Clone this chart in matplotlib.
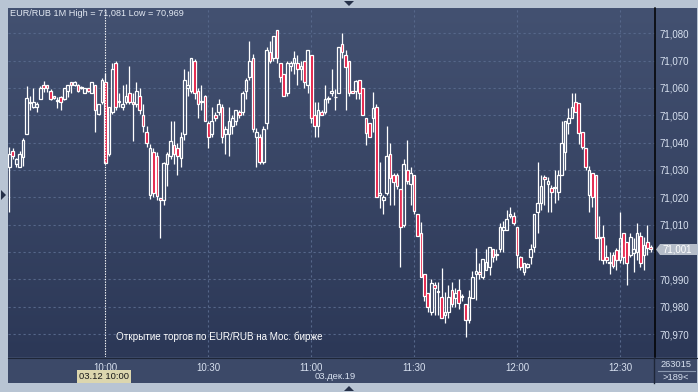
import numpy as np
import matplotlib
matplotlib.use('Agg')
import matplotlib.pyplot as plt
from matplotlib.colors import LinearSegmentedColormap
from matplotlib.patches import Rectangle, Polygon

W, H = 698, 392

# 1-minute EUR/RUB candles, first candle at 09:32
opens = [71.031, 71.037, 71.032, 71.031, 71.0347, 71.043, 71.0543, 71.053, 71.053, 71.056,
         71.061, 71.061, 71.059, 71.057, 71.0552, 71.0567, 71.056, 71.059, 71.062, 71.061,
         71.061, 71.060, 71.058, 71.060, 71.058, 71.061, 71.0505, 71.055, 71.062, 71.036,
         71.051, 71.069, 71.055, 71.053, 71.055, 71.058, 71.055, 71.054, 71.057, 71.050,
         71.044, 71.021, 71.0365, 71.035, 71.0197, 71.019, 71.032, 71.035, 71.039, 71.038,
         71.0345, 71.043, 71.060, 71.059, 71.070, 71.059, 71.055, 71.057, 71.047, 71.043,
         71.050, 71.051, 71.053, 71.043, 71.043, 71.046, 71.048, 71.051, 71.051, 71.059,
         71.064, 71.071, 71.042, 71.042, 71.033, 71.047, 71.073, 71.071, 71.081, 71.069,
         71.065, 71.058, 71.068, 71.069, 71.069, 71.067, 71.070, 71.061, 71.072, 71.050,
         71.046, 71.051, 71.051, 71.056, 71.058, 71.0565, 71.058, 71.076, 71.072, 71.070,
         71.059, 71.059, 71.063, 71.060, 71.049, 71.047, 71.049, 71.053, 71.021, 71.019,
         71.0215, 71.036, 71.028, 71.028, 71.023, 71.010, 71.030, 71.025, 71.028, 71.014,
         71.007, 70.992, 70.985, 70.978, 70.988, 70.9855, 70.9835, 70.977, 70.978, 70.986,
         70.983, 70.986, 70.9835, 70.981, 70.975, 70.983, 70.992, 70.9925, 70.991, 70.9935,
         70.9945, 71.001, 70.999, 71.001, 71.008, 71.008, 71.013, 71.013, 71.009, 70.998,
         70.9925, 70.9945, 70.998, 71.002, 71.0145, 71.018, 71.0275, 71.025, 71.0235, 71.0235,
         71.022, 71.028, 71.0365, 71.047, 71.049, 71.055, 71.0545, 71.044, 71.038, 71.021,
         71.029, 71.028, 71.005, 71.0055, 70.998, 70.996, 70.999, 71.0007, 70.997, 71.007,
         71.0035, 70.999, 70.9995, 71.000, 71.006, 70.999, 71.0035, 71.002]
highs = [71.0385, 71.038, 71.0345, 71.037, 71.0415, 71.0605, 71.057, 71.060, 71.055, 71.0605,
         71.0625, 71.061, 71.0595, 71.057, 71.0567, 71.057, 71.060, 71.061, 71.062, 71.0625,
         71.0615, 71.0605, 71.060, 71.060, 71.062, 71.061, 71.054, 71.0635, 71.0655, 71.053,
         71.069, 71.070, 71.058, 71.061, 71.0615, 71.068, 71.058, 71.062, 71.060, 71.054,
         71.046, 71.0395, 71.038, 71.0365, 71.0198, 71.033, 71.0365, 71.048, 71.048, 71.040,
         71.044, 71.067, 71.066, 71.071, 71.0705, 71.060, 71.061, 71.0575, 71.048, 71.053,
         71.051, 71.056, 71.054, 71.046, 71.053, 71.050, 71.052, 71.052, 71.059, 71.0635,
         71.077, 71.0725, 71.0455, 71.043, 71.046, 71.075, 71.077, 71.079, 71.081, 71.069,
         71.065, 71.070, 71.070, 71.0735, 71.072, 71.070, 71.070, 71.074, 71.072, 71.055,
         71.055, 71.052, 71.061, 71.057, 71.067, 71.0595, 71.075, 71.080, 71.074, 71.070,
         71.059, 71.063, 71.063, 71.060, 71.049, 71.047, 71.0585, 71.054, 71.033, 71.021,
         71.046, 71.040, 71.029, 71.029, 71.023, 71.034, 71.041, 71.031, 71.028, 71.014,
         71.011, 70.992, 70.985, 70.990, 70.989, 70.989, 70.994, 70.9855, 70.988, 70.989,
         70.987, 70.990, 70.9845, 70.981, 70.986, 70.993, 71.0015, 70.996, 70.9975, 71.001,
         71.002, 71.001, 71.001, 71.0105, 71.0115, 71.0155, 71.0165, 71.0145, 71.009, 70.9985,
         70.996, 70.996, 71.003, 71.014, 71.033, 71.028, 71.028, 71.0275, 71.0245, 71.030,
         71.030, 71.048, 71.048, 71.0525, 71.058, 71.058, 71.0545, 71.044, 71.038, 71.0315,
         71.029, 71.028, 71.013, 71.010, 71.0025, 71.000, 71.000, 71.0015, 71.0145, 71.007,
         71.0035, 71.007, 71.005, 71.0105, 71.0073, 71.0055, 71.010, 71.0025]
lows = [71.0145, 71.034, 71.031, 71.031, 71.0315, 71.043, 71.052, 71.0527, 71.051, 71.056,
        71.0585, 71.0585, 71.0555, 71.056, 71.0527, 71.052, 71.0555, 71.0565, 71.058, 71.0605,
        71.0585, 71.0595, 71.058, 71.0585, 71.058, 71.044, 71.050, 71.054, 71.0325, 71.035,
        71.0505, 71.052, 71.053, 71.052, 71.054, 71.054, 71.0405, 71.053, 71.0505, 71.044,
        71.0385, 71.0195, 71.020, 71.019, 71.005, 71.017, 71.024, 71.034, 71.032, 71.028,
        71.031, 71.041, 71.057, 71.058, 71.056, 71.049, 71.052, 71.048, 71.038, 71.042,
        71.048, 71.050, 71.040, 71.036, 71.035, 71.043, 71.0465, 71.049, 71.050, 71.056,
        71.063, 71.044, 71.031, 71.032, 71.032, 71.045, 71.069, 71.070, 71.069, 71.062,
        71.057, 71.057, 71.066, 71.065, 71.061, 71.063, 71.060, 71.058, 71.047, 71.042,
        71.042, 71.050, 71.0505, 71.0545, 71.057, 71.052, 71.058, 71.071, 71.052, 71.057,
        71.058, 71.056, 71.056, 71.050, 71.039, 71.042, 71.044, 71.020, 71.016, 71.014,
        71.021, 71.017, 71.017, 71.023, 70.9945, 71.009, 71.025, 71.017, 71.014, 71.006,
        70.991, 70.982, 70.978, 70.977, 70.977, 70.977, 70.976, 70.974, 70.976, 70.980,
        70.980, 70.979, 70.982, 70.969, 70.974, 70.983, 70.9825, 70.990, 70.990, 70.9935,
        70.9915, 70.9965, 70.997, 71.000, 71.000, 71.008, 71.0125, 71.010, 70.994, 70.9935,
        70.9915, 70.994, 70.9955, 71.000, 71.007, 71.0155, 71.017, 71.0145, 71.0145, 71.018,
        71.019, 71.028, 71.030, 71.043, 71.049, 71.051, 71.0395, 71.0375, 71.030, 71.0147,
        71.0165, 71.005, 70.997, 70.9955, 70.996, 70.992, 70.994, 70.9935, 70.996, 70.9955,
        70.988, 70.998, 70.9925, 70.997, 70.9945, 70.9935, 70.999, 71.000]
closes = [71.036, 71.035, 71.034, 71.036, 71.041, 71.0563, 71.055, 71.055, 71.054, 71.060,
          71.060, 71.060, 71.056, 71.0563, 71.0555, 71.055, 71.060, 71.061, 71.061, 71.062,
          71.059, 71.060, 71.060, 71.059, 71.062, 71.052, 71.054, 71.063, 71.0325, 71.053,
          71.067, 71.053, 71.0553, 71.054, 71.057, 71.055, 71.054, 71.059, 71.052, 71.046,
          71.040, 71.038, 71.0215, 71.0205, 71.019, 71.0325, 71.036, 71.0405, 71.036, 71.035,
          71.042, 71.063, 71.061, 71.071, 71.058, 71.054, 71.0553, 71.048, 71.042, 71.048,
          71.049, 71.054, 71.042, 71.045, 71.048, 71.049, 71.052, 71.050, 71.058, 71.063,
          71.070, 71.045, 71.044, 71.033, 71.045, 71.074, 71.070, 71.079, 71.071, 71.064,
          71.057, 71.069, 71.069, 71.071, 71.067, 71.068, 71.062, 71.074, 71.049, 71.046,
          71.052, 71.050, 71.056, 71.056, 71.059, 71.0565, 71.075, 71.073, 71.0675, 71.058,
          71.058, 71.0625, 71.058, 71.050, 71.0435, 71.042, 71.0525, 71.020, 71.0215, 71.020,
          71.035, 71.027, 71.0255, 71.024, 71.009, 71.032, 71.026, 71.029, 71.015, 71.006,
          70.991, 70.984, 70.980, 70.9885, 70.987, 70.9855, 70.976, 70.978, 70.9835, 70.981,
          70.985, 70.9815, 70.9835, 70.975, 70.9835, 70.991, 70.993, 70.992, 70.9975, 70.9965,
          71.002, 70.998, 70.999, 71.009, 71.009, 71.012, 71.014, 71.0105, 70.999, 70.9945,
          70.996, 70.9955, 71.001, 71.014, 71.018, 71.024, 71.0265, 71.026, 71.022, 71.0235,
          71.028, 71.040, 71.048, 71.049, 71.053, 71.051, 71.0435, 71.0385, 71.031, 71.030,
          71.020, 71.005, 71.0055, 70.997, 70.997, 70.9962, 70.995, 70.997, 71.005, 70.998,
          70.996, 71.0055, 71.001, 71.007, 70.996, 71.0025, 71.0015, 71.001]

first_minute = -28          # 09:32 relative to 10:00
price_levels = [70.970, 70.980, 70.990, 71.000, 71.010, 71.020, 71.030,
                71.040, 71.050, 71.060, 71.070, 71.080]
time_ticks = [0, 30, 60, 90, 120, 150]
time_labels = ['10:00', '10:30', '11:00', '11:30', '12:00', '12:30']
last_price = 71.001

plt.rcParams['font.family'] = ['Liberation Sans', 'DejaVu Sans']

FRAME = '#b8c4d3'
GRID = '#56678a'
LABEL = '#d8e1f0'
RED = '#e3123c'


def fx(px):
    return px / W


def fy(py):
    return 1 - py / H


def price_fmt(v):
    return f'{v:.3f}'.replace('.', ',')


fig = plt.figure(figsize=(W / 100, H / 100), dpi=100, facecolor=FRAME)

# dark gradient behind the chart and the price scale
bg = fig.add_axes([fx(8), fy(357), (697 - 8) / W, (357 - 8) / H])
grad = LinearSegmentedColormap.from_list('bg', ['#435171', '#2c3857'])
bg.imshow(np.linspace(0, 1, 256).reshape(-1, 1), cmap=grad, aspect='auto',
          extent=[0, 1, 0, 1])
bg.set_axis_off()

# time strip
strip = fig.add_axes([fx(8), fy(383), (697 - 8) / W, (383 - 357) / H])
strip.set_facecolor('#3c4968')
strip.set_xticks([])
strip.set_yticks([])
for s in strip.spines.values():
    s.set_visible(False)

ax = fig.add_axes([fx(8), fy(357), (655 - 8) / W, (357 - 8) / H])
ax.patch.set_alpha(0)
for s in ax.spines.values():
    s.set_visible(False)

xs = np.arange(len(opens)) + first_minute
x_left = first_minute - 0.4
x_right = x_left + 647 / 3.43
y_lo, y_hi = 70.9616, 71.0892
ax.set_xlim(x_left, x_right)
ax.set_ylim(y_lo, y_hi)

# grid
ax.hlines(price_levels, x_left, x_right, colors=GRID, lw=0.8,
          linestyles=(0, (2, 2.5)), zorder=1)
ax.vlines(time_ticks[1:], y_lo, y_hi, colors=GRID, lw=0.8,
          linestyles=(0, (2, 2.5)), zorder=1)
ax.vlines(time_ticks[0], y_lo, y_hi, colors='white', lw=0.8,
          linestyles=(0, (1.2, 1.2)), zorder=4)

# candles
bw = 0.78
for x, o, h, l, c in zip(xs, opens, highs, lows, closes):
    top, bot = max(o, c), min(o, c)
    ax.vlines(x, top, h, colors='white', lw=0.9, zorder=3)
    ax.vlines(x, l, bot, colors='white', lw=0.9, zorder=3)
    ax.add_patch(Rectangle((x - bw / 2, bot), bw, max(top - bot, 0.00025),
                           facecolor=RED if c < o else 'none',
                           edgecolor='white', lw=0.9, zorder=3))

# price scale on the right (the 71,000 label sits under the last-price marker)
ax.yaxis.tick_right()
ax.set_yticks(price_levels)
ax.set_yticklabels(['' if abs(v - last_price) < 0.003 else price_fmt(v)
                    for v in price_levels])
ax.tick_params(axis='y', length=0, pad=3, labelsize=7, labelcolor=LABEL)
ax.set_xticks(time_ticks)
ax.set_xticklabels(time_labels)
ax.tick_params(axis='x', length=0, pad=4, labelsize=7, labelcolor=LABEL)

# separators
fig.add_artist(plt.Line2D([fx(655), fx(655)], [fy(8), fy(357)], color='black', lw=1.1))
fig.add_artist(plt.Line2D([fx(653.5), fx(653.5)], [fy(358), fy(383)], color='#1e2638', lw=1))
fig.add_artist(plt.Line2D([fx(8), fx(697)], [fy(357.5), fy(357.5)], color='#1e2638', lw=0.8))
fig.add_artist(plt.Line2D([fx(658), fx(695)], [fy(371), fy(371)], color='#8a98b0', lw=0.8))

# last price marker
fig.add_artist(Polygon([(fx(656), fy(249.5)), (fx(660), fy(244)), (fx(697), fy(244)),
                        (fx(697), fy(255)), (fx(660), fy(255))],
                       closed=True, facecolor='#b5bdc9', edgecolor='none'))
fig.text(fx(662), fy(249.5), price_fmt(last_price), color='white',
         fontsize=7, va='center', ha='left')

# texts
fig.text(fx(10), fy(14), 'EUR/RUB 1M High = 71,081 Low = 70,969', color='#e2e8f2',
         fontsize=6.6, va='center', ha='left')
fig.text(fx(116), fy(337), 'Открытие торгов по EUR/RUB на Мос. бирже', color='white',
         fontsize=7.1, va='center', ha='left')
fig.text(fx(104), fy(376.5), '03.12 10:00', color='#1a1a1a', fontsize=6.8,
         va='center', ha='center',
         bbox=dict(boxstyle='square,pad=0.2', facecolor='#dcd6ae', edgecolor='none'))
fig.text(fx(335), fy(376.5), '03.дек.19', color=LABEL, fontsize=6.8, va='center', ha='center')
fig.text(fx(676), fy(364.5), '263015', color=LABEL, fontsize=6.7, va='center', ha='center')
fig.text(fx(676), fy(377.5), '>189<', color=LABEL, fontsize=6.7, va='center', ha='center')

# frame markers
tri = '#253048'
fig.add_artist(Polygon([(fx(344), fy(1)), (fx(354), fy(1)), (fx(349), fy(6))],
                       closed=True, facecolor=tri, edgecolor='none'))
fig.add_artist(Polygon([(fx(344), fy(391)), (fx(354), fy(391)), (fx(349), fy(386))],
                       closed=True, facecolor=tri, edgecolor='none'))
fig.add_artist(Polygon([(fx(1), fy(190)), (fx(1), fy(200)), (fx(6), fy(195))],
                       closed=True, facecolor=tri, edgecolor='none'))

fig.savefig('out.png', dpi=100, facecolor=FRAME)
